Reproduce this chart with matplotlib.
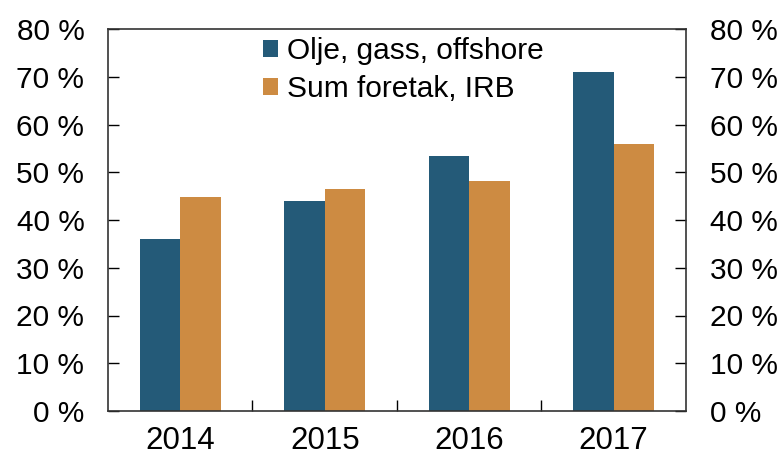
import matplotlib.pyplot as plt
import numpy as np

# === Data ===
years = ["2014", "2015", "2016", "2017"]
olje_gass = [36.0, 44.0, 53.3, 71.0]
sum_foretak = [44.8, 46.5, 48.2, 55.9]
labels = ["Olje, gass, offshore", "Sum foretak, IRB"]

BLUE = "#245a78"
ORANGE = "#cd8b42"

plt.rcParams['font.family'] = ['Liberation Sans', 'DejaVu Sans']

fig = plt.figure(figsize=(7.82, 4.59), dpi=100)
ax = fig.add_axes([108 / 782, 1 - 411 / 459, 578 / 782, 382 / 459])

x = np.arange(len(years))
w = 0.28
ax.bar(x - w / 2, olje_gass, w, color=BLUE, label=labels[0])
ax.bar(x + w / 2, sum_foretak, w, color=ORANGE, label=labels[1])

ax.set_xlim(-0.5, len(years) - 0.5)
ax.set_ylim(0, 80)
yt = np.arange(0, 81, 10)
ax.set_yticks(yt)
ax.set_yticklabels([f"{v} %" for v in yt])
ax.tick_params(axis='y', direction='in', length=8, width=1, labelsize=21.5,
               pad=17, right=True, labelright=True, left=True, labelleft=True)
ax.set_xticks(x)
ax.set_xticklabels(years)
ax.set_xticks(np.arange(0.5, len(years) - 1, 1), minor=True)
ax.tick_params(axis='x', which='major', length=0, labelsize=22.5, pad=11)
ax.tick_params(axis='x', which='minor', direction='in', length=8, width=1)

for s in ax.spines.values():
    s.set_color("#333333")
    s.set_linewidth(1.2)

ax.legend(loc='upper left', bbox_to_anchor=(0.268, 0.978), frameon=False,
          fontsize=21.5, handlelength=0.5, handleheight=0.5, handletextpad=0.3,
          labelspacing=0.33, borderpad=0, borderaxespad=0)

fig.savefig("out.png", dpi=100)
